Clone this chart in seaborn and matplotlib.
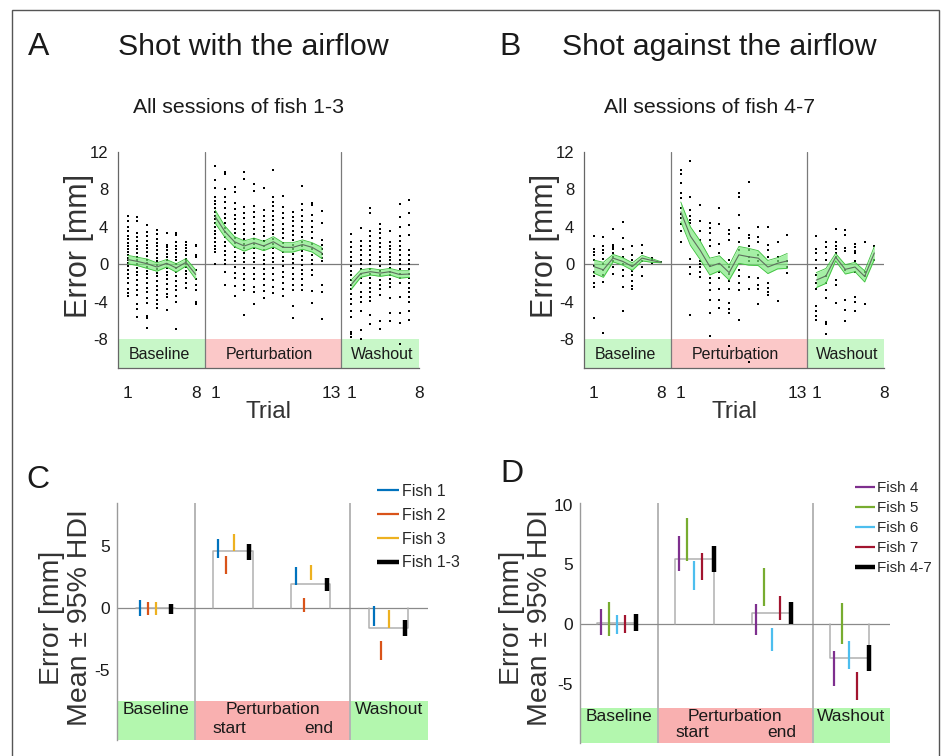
import numpy as np
import pandas as pd
import matplotlib
matplotlib.use("Agg")
import matplotlib.pyplot as plt
import seaborn as sns
from matplotlib.patches import Rectangle

# ------------------------------------------------------------------ data
phases = ["Baseline", "Perturbation", "Washout"]
n_trials = [8, 13, 8]
tick_pos_labels = ["1", "8", "1", "13", "1", "8"]

# Panel A: single-trial errors (mm) per trial
A_base_pts = [
    [5.2, 4.6, 4.0, 3.5, 3.0, 2.7, 2.3, 2.0, 1.6, 1.3, 1.0, 0.7, 0.4, 0.1, -0.2, -0.6, -1.0, -1.5, -2.0, -2.6, -3.1, -3.4],
    [5.1, 4.6, 3.3, 2.9, 2.5, 2.0, 1.6, 1.2, 0.8, 0.4, 0.0, -0.4, -0.8, -1.2, -1.7, -2.2, -2.8, -3.3, -4.3, -4.8, -5.6],
    [4.2, 3.4, 3.0, 2.5, 2.1, 1.7, 1.3, 0.9, 0.5, 0.1, -0.3, -0.7, -1.1, -1.5, -2.0, -2.5, -3.0, -3.6, -4.2, -5.5, -5.7, -6.8],
    [3.7, 3.2, 2.7, 2.3, 1.9, 1.5, 1.1, 0.7, 0.3, -0.1, -0.5, -0.9, -1.3, -1.8, -2.3, -2.8, -3.3, -3.8, -4.3, -4.7],
    [3.3, 2.1, 1.8, 1.5, 1.1, 0.8, 0.4, 0.0, -0.4, -0.8, -1.2, -1.6, -2.1, -2.6, -3.2, -3.5, -4.9],
    [3.3, 3.1, 2.4, 2.0, 1.6, 1.2, 0.8, 0.4, 0.0, -0.4, -0.8, -1.3, -1.8, -2.3, -2.8, -3.4, -4.0, -6.9],
    [2.4, 2.1, 1.7, 1.4, 1.0, 0.6, 0.3, 0.0, -0.3, -0.7, -1.1, -1.5, -2.0, -2.5],
    [2.1, 1.9, 1.0, 0.8, -0.6, -1.6, -2.2, -2.8, -4.0, -4.3],
]
A_pert_pts = [
    [10.5, 9.0, 8.2, 7.2, 6.8, 6.4, 6.0, 5.6, 5.2, 4.8, 4.4, 4.0, 3.6, 3.2, 2.8, 2.4, 2.0, 1.6, 1.3, 0.0],
    [9.9, 9.6, 8.0, 7.2, 6.6, 6.0, 5.4, 4.9, 4.4, 3.9, 3.4, 2.9, 2.4, 1.9, 1.4, 1.0, 0.5, 0.0, -0.8, -2.2],
    [8.3, 7.7, 6.5, 5.9, 5.3, 4.8, 4.3, 3.8, 3.3, 2.8, 2.3, 1.8, 1.3, 0.8, 0.3, -0.3, -0.9, -1.5, -2.3, -3.4],
    [9.9, 9.1, 6.1, 5.5, 4.9, 4.3, 3.7, 3.2, 2.7, 2.2, 1.7, 1.2, 0.7, 0.2, -0.4, -1.0, -1.6, -2.2, -2.8, -5.4],
    [8.6, 7.8, 6.2, 5.6, 5.0, 4.4, 3.8, 3.2, 2.7, 2.2, 1.7, 1.2, 0.7, 0.2, -0.4, -1.0, -1.6, -2.4, -3.0, -4.3],
    [8.1, 5.8, 5.2, 4.6, 4.0, 3.5, 3.0, 2.5, 2.0, 1.5, 1.0, 0.5, 0.0, -0.5, -1.0, -1.6, -2.2, -2.9, -3.6],
    [10.1, 7.2, 6.7, 6.2, 5.7, 5.2, 4.7, 4.2, 3.7, 3.2, 2.7, 2.2, 1.7, 1.2, 0.7, 0.2, -0.4, -1.0, -1.7, -2.4, -3.1],
    [7.3, 6.1, 5.5, 4.9, 4.3, 3.8, 3.3, 2.8, 2.3, 1.8, 1.3, 0.8, 0.3, -0.2, -0.8, -1.4, -2.0, -2.7, -3.4],
    [5.6, 5.1, 4.6, 4.1, 3.6, 3.1, 2.6, 2.1, 1.6, 1.1, 0.6, 0.1, -0.4, -1.0, -1.6, -2.2, -2.8, -4.5, -5.8],
    [8.4, 6.4, 5.8, 5.2, 4.6, 4.0, 3.4, 2.9, 2.4, 1.9, 1.4, 0.9, 0.4, -0.1, -0.6, -1.1, -1.6, -2.2, -2.8],
    [6.5, 6.3, 5.3, 4.6, 4.0, 3.4, 2.8, 2.2, 1.6, 1.0, 0.5, 0.0, -0.6, -1.2, -2.9, -4.1],
    [5.7, 4.4, 2.6, 2.1, 1.6, 1.1, 0.7, 0.3, -2.2, -3.0, -5.9],
]
A_wash_pts = [
    [3.2, 2.4, 1.8, 1.3, 0.8, 0.3, -0.2, -0.7, -1.2, -1.7, -2.2, -2.7, -3.2, -3.7, -4.3, -5.0, -5.6, -7.2, -7.5, -7.8],
    [3.9, 2.5, 2.0, 1.5, 1.0, 0.5, 0.0, -0.5, -1.0, -1.5, -2.0, -3.0, -3.5, -4.0, -5.0, -7.0, -8.0],
    [6.0, 5.5, 3.5, 3.0, 2.5, 2.0, 1.5, 1.0, 0.5, 0.0, -0.5, -1.0, -1.5, -2.0, -2.5, -3.0, -3.5, -3.9, -5.4, -6.4],
    [4.3, 3.8, 3.3, 2.8, 2.3, 1.8, 1.3, 0.8, 0.3, -0.2, -0.7, -1.2, -1.7, -2.2, -2.7, -3.3, -6.1, -6.9],
    [3.6, 2.4, 2.0, 1.6, 1.2, 0.8, 0.4, 0.0, -0.4, -0.8, -1.2, -1.6, -2.0, -2.4, -3.6, -5.2, -6.1],
    [6.4, 5.1, 4.0, 3.0, 2.5, 2.0, 1.5, 1.0, 0.5, 0.0, -0.5, -1.0, -1.5, -2.0, -3.5, -5.2, -6.3, -8.5],
    [6.9, 5.5, 4.2, 3.1, 1.5, 1.0, 0.5, 0.0, -0.5, -1.0, -1.5, -2.0, -2.5, -3.0, -3.5, -4.0, -5.0, -6.0],
]
A_base_mean = [0.5, 0.3, 0.05, -0.3, 0.1, -0.4, 0.2, -1.1]
A_base_ci = [0.45, 0.45, 0.5, 0.45, 0.4, 0.45, 0.4, 0.5]
A_pert_mean = [5.1, 3.5, 2.4, 1.95, 2.3, 1.95, 2.4, 1.8, 1.8, 2.1, 1.8, 1.2]
A_pert_ci = [0.7, 0.6, 0.55, 0.55, 0.5, 0.5, 0.55, 0.5, 0.5, 0.5, 0.5, 0.6]
A_wash_mean = [-2.2, -1.0, -0.8, -0.95, -0.8, -1.1, -1.05]
A_wash_ci = [0.5, 0.4, 0.35, 0.35, 0.35, 0.4, 0.35]

# Panel B
B_base_pts = [
    [3.0, 1.6, 1.3, 1.0, 0.5, -0.2, -0.8, -1.3, -2.0, -2.4, -5.7],
    [2.9, 1.9, 1.5, 1.2, 0.6, 0.0, -0.6, -1.2, -1.9, -7.4],
    [3.8, 2.1, 1.8, 1.6, 1.2, 0.8, 0.3, -0.3, -1.1],
    [4.5, 2.8, 1.6, 0.8, 0.0, -0.6, -1.3, -2.4, -5.0],
    [1.9, 1.0, 0.4, -0.2, -0.7, -1.2, -1.8, -2.3, -2.7],
    [2.1, 1.2, 0.3, -0.3, -1.3],
    [0.7, 0.4, 0.1],
    [0.2],
]
B_pert_pts = [
    [10.1, 9.6, 8.7, 7.6, 7.1, 6.0, 5.4, 4.9, 4.3, 3.6, 2.4],
    [11.0, 7.2, 5.8, 5.2, 4.7, 4.4, 0.6, -0.3, -1.0, -5.4],
    [6.3, 4.6, 3.5, 2.6, 0.3, 0.0, -0.3, -0.8, -1.4],
    [4.4, 3.9, 3.3, 2.6, 2.0, -0.2, -1.5, -2.0, -2.8, -3.8, -5.2, -7.7],
    [6.0, 4.3, 2.2, 1.2, 0.0, -0.8, -1.5, -2.7, -3.8, -4.7],
    [3.7, 3.2, 2.6, 0.5, -0.3, -1.0, -1.8, -2.6, -4.2, -4.8, -5.2, -8.7],
    [7.6, 7.2, 5.3, 3.9, 2.4, 1.5, -0.6, -1.3, -2.0, -2.8, -6.0],
    [8.8, 3.1, 2.8, 2.0, 1.5, 0.8, 0.3, -1.4, -2.6, -10.5],
    [4.0, 2.9, 2.4, 1.0, 0.3, -1.5, -2.2, -2.7, -4.3],
    [4.0, 2.1, 1.5, 0.8, -2.0, -2.5, -3.0, -3.3],
    [2.4, 0.8, 0.3, -3.9],
    [3.1, 0.3, -0.3, -0.9],
]
B_wash_pts = [
    [3.0, 1.6, 1.2, 0.5, -0.4, -1.2, -2.0, -2.7, -4.5, -5.0, -5.5, -6.0],
    [2.4, 1.8, 1.2, 0.5, -1.3, -2.0, -2.8, -3.6, -6.2, -6.4, -7.5],
    [3.8, 2.4, 2.0, 1.6, 1.2, 0.8, -1.7, -2.2, -4.1],
    [3.7, 3.1, 1.7, 1.4, -0.6, -3.8, -4.9, -6.1],
    [2.2, 1.8, 1.4, 1.2, 0.3, -0.8, -3.5, -4.0, -5.0],
    [2.4, -0.8, -1.3, -4.3],
    [1.9, 0.5],
]
B_base_mean = [-0.25, -0.6, 0.65, 0.3, -0.25, 0.65, 0.4, 0.2]
B_base_ci = [0.7, 0.8, 0.4, 0.4, 0.4, 0.3, 0.2, 0.05]
B_pert_mean = [5.6, 3.0, 1.5, -0.25, 0.1, -0.9, 1.0, 0.8, 0.65, -0.3, 0.1, 0.35]
B_pert_ci = [1.05, 1.0, 1.0, 0.9, 0.8, 0.8, 0.9, 0.9, 0.8, 0.7, 0.6, 0.8]
B_wash_mean = [-1.7, -1.25, 0.75, -0.55, -0.3, -1.3, 1.2]
B_wash_ci = [0.8, 0.8, 0.4, 0.5, 0.5, 0.6, 0.7]

# Panels C / D: mean +- 95% HDI per condition
conds = ["Baseline", "start", "end", "Washout"]
C_fish = ["Fish 1", "Fish 2", "Fish 3", "Fish 1-3"]
C_low = [[-0.62, 4.05, 1.85, -1.49],
         [-0.57, 2.78, -0.35, -4.2],
         [-0.54, 4.6, 2.25, -1.62],
         [-0.46, 3.9, 1.35, -2.3]]
C_high = [[0.62, 5.6, 3.3, 0.19],
          [0.46, 4.24, 0.8, -2.7],
          [0.46, 6.0, 3.5, -0.14],
          [0.35, 5.2, 2.43, -0.95]]
C_box = [0.0, 4.6, 1.9, -1.62]

D_fish = ["Fish 4", "Fish 5", "Fish 6", "Fish 7", "Fish 4-7"]
D_low = [[-0.95, 4.41, -0.9, -5.17],
         [-0.98, 5.3, 1.5, -1.65],
         [-0.84, 2.88, -2.3, -3.77],
         [-0.75, 3.72, 0.36, -6.34],
         [-0.56, 4.33, 0.0, -3.97]]
D_high = [[1.28, 7.35, 1.68, -2.23],
          [1.84, 8.9, 4.7, 1.76],
          [0.78, 5.25, -0.33, -1.4],
          [0.78, 5.95, 2.37, -4.02],
          [0.84, 6.56, 1.84, -1.79]]
D_box = [0.1, 5.45, 0.92, -2.85]

C_colors = ["#0072BD", "#D95319", "#EDB120", "#000000"]
D_colors = ["#7E2F8E", "#77AC30", "#4DBEEE", "#A2142F", "#000000"]

# ------------------------------------------------------------------ style
sns.set_style("white")
plt.rcParams['font.family'] = ['Liberation Sans', 'DejaVu Sans']
TXT = '#1a1a1a'
AXC = '#666666'
GREEN_BOX = '#C8F7C8'
PINK_BOX = '#FBC8C8'
GREEN_BOX2 = '#B3F7AE'
PINK_BOX2 = '#F9B0B0'

W, H = 941, 756
fig = plt.figure(figsize=(W / 100, H / 100), dpi=100)


def fx(px):
    return px / W


def fy(py):
    return 1 - py / H


# phase geometry on the trial axis
starts = [0]
for n in n_trials[:-1]:
    starts.append(starts[-1] + n + 1)
bounds = [starts[0], starts[1], starts[2], starts[2] + n_trials[2]]


def trial_panel(ax, pts_list, means, cis):
    ylo, yhi = -11.1, 12
    ax.set_xlim(bounds[0], bounds[-1])
    ax.set_ylim(ylo, yhi)
    cols = [GREEN_BOX, PINK_BOX, GREEN_BOX]
    txt_x = [4.3, 15.6, 27.2]
    for i in range(3):
        ax.add_patch(Rectangle((bounds[i], ylo), bounds[i + 1] - bounds[i], -8 - ylo,
                               fc=cols[i], ec='none', zorder=0))
        ax.text(txt_x[i], -9.65, phases[i], ha='center', va='center',
                fontsize=11.5, color=TXT, zorder=5)
    for b in bounds[1:3]:
        ax.axvline(b, color='#7a7a7a', lw=0.9, zorder=1)
    ax.axhline(0, color='#7a7a7a', lw=0.9, zorder=1)

    rows = []
    for st, pts in zip(starts, pts_list):
        for t, vals in enumerate(pts, start=1):
            for v in vals:
                rows.append((st + t, v))
    df = pd.DataFrame(rows, columns=['trial', 'error'])
    sns.scatterplot(data=df, x='trial', y='error', ax=ax, s=3.5, marker='s',
                    color='black', linewidth=0, zorder=2, legend=False)

    for st, m, c in zip(starts, means, cis):
        x = np.arange(1, len(m) + 1) + st
        m = np.asarray(m)
        c = np.asarray(c)
        ax.fill_between(x, m - c, m + c, color='#7FEA7F', alpha=0.7, lw=0, zorder=3)
        ax.plot(x, m - c, color='#3CC03C', lw=0.6, zorder=3)
        ax.plot(x, m + c, color='#3CC03C', lw=0.6, zorder=3)
        sns.lineplot(x=x, y=m, ax=ax, color='#5E705E', lw=0.8, zorder=4, sort=False)

    for s in ['top', 'right']:
        ax.spines[s].set_visible(False)
    for s in ['left', 'bottom']:
        ax.spines[s].set_color(AXC)
        ax.spines[s].set_linewidth(0.9)
    ax.set_yticks([12, 8, 4, 0, -4, -8])
    ax.set_yticklabels(['12', '8', '4', '0', '-4', '-8'])
    major = [starts[0] + 1, starts[0] + n_trials[0], starts[1] + 1,
             starts[1] + n_trials[1], starts[2] + 1, starts[2] + n_trials[2]]
    ax.set_xticks(major)
    ax.set_xticklabels(tick_pos_labels)
    minor = []
    for st, n in zip(starts, n_trials):
        minor += list(range(st + 1, st + n + 1))
    ax.set_xticks(minor, minor=True)
    ax.tick_params(axis='y', length=3, width=0.8, color=AXC, pad=4,
                   labelsize=12, labelcolor=TXT, direction='out')
    ax.tick_params(axis='x', which='both', length=3, width=0.8, color=AXC,
                   pad=10, labelsize=12.5, labelcolor=TXT, direction='out')
    ax.set_xlabel('')
    ax.set_ylabel('')
    ax.set_facecolor('white')


def hdi_panel(ax, low, high, box, offsets, colors, names, box_left, box_right,
              ylim, label_top, y_line1, y_line2, yticks):
    ax.set_xlim(-0.5, 3.5)
    ax.set_ylim(*ylim)
    cols = [GREEN_BOX2, PINK_BOX2, GREEN_BOX2]
    spans = [(-0.5, 0.5), (0.5, 2.5), (2.5, 3.5)]
    for (a, b), c in zip(spans, cols):
        ax.add_patch(Rectangle((a, ylim[0]), b - a, label_top - ylim[0],
                               fc=c, ec='none', zorder=0))
    ax.text(0, y_line1, 'Baseline', ha='center', va='center', fontsize=12.5, color=TXT)
    ax.text(1.5, y_line1, 'Perturbation', ha='center', va='center', fontsize=12.5, color=TXT)
    ax.text(3, y_line1, 'Washout', ha='center', va='center', fontsize=12.5, color=TXT)
    ax.text(0.95, y_line2, 'start', ha='center', va='center', fontsize=12.5, color=TXT)
    ax.text(2.1, y_line2, 'end', ha='center', va='center', fontsize=12.5, color=TXT)
    for b in [0.5, 2.5]:
        ax.axvline(b, color='#b5b5b5', lw=1.4, zorder=1)
    ax.axhline(0, color='#8a8a8a', lw=0.9, zorder=1)
    # grey outline boxes at the pooled mean
    for g, m in enumerate(box):
        xl, xr = g + box_left, g + box_right
        ax.plot([xl, xl, xr, xr], [0, m, m, 0], color='#b0b0b0', lw=1.1, zorder=2)
    handles = []
    for i, (nm, col) in enumerate(zip(names, colors)):
        lw = 3.2 if col == '#000000' else 1.6
        for g in range(4):
            x = g + offsets[i]
            h, = ax.plot([x, x], [low[i][g], high[i][g]], color=col, lw=lw,
                         solid_capstyle='butt', zorder=3)
        handles.append(h)
    for s in ['top', 'right', 'bottom']:
        ax.spines[s].set_visible(False)
    ax.spines['left'].set_color('#9a9a9a')
    ax.spines['left'].set_linewidth(1.0)
    ax.set_xticks([])
    ax.set_yticks(yticks)
    ax.set_yticklabels([str(t) for t in yticks])
    ax.tick_params(axis='y', length=0, pad=5, labelsize=12.5, labelcolor=TXT)
    ax.set_facecolor('white')
    return handles


# ------------------------------------------------------------------ axes
axA = fig.add_axes([fx(118), fy(368), fx(301), 216 / H])
axB = fig.add_axes([fx(584), fy(368), fx(300), 216 / H])
axC = fig.add_axes([fx(117), fy(740), fx(311), 237 / H])
axD = fig.add_axes([fx(580), fy(743), fx(310), 240 / H])

trial_panel(axA, [A_base_pts, A_pert_pts, A_wash_pts],
            [A_base_mean, A_pert_mean, A_wash_mean], [A_base_ci, A_pert_ci, A_wash_ci])
trial_panel(axB, [B_base_pts, B_pert_pts, B_wash_pts],
            [B_base_mean, B_pert_mean, B_wash_mean], [B_base_ci, B_pert_ci, B_wash_ci])

hC = hdi_panel(axC, C_low, C_high, C_box, [-0.2, -0.1, 0.0, 0.2], C_colors, C_fish,
               -0.26, 0.245, (-10.7, 8.5), -7.57, -8.24, -9.75, [5, 0, -5])
hD = hdi_panel(axD, D_low, D_high, D_box, [-0.225, -0.125, -0.025, 0.075, 0.225],
               D_colors, D_fish, -0.28, 0.225, (-9.97, 10.14), -7.04, -7.74, -9.13,
               [10, 5, 0, -5])

fig.legend(hC, C_fish, loc='upper left', bbox_to_anchor=(fx(377), fy(484)),
           frameon=False, fontsize=11.5, handlelength=1.4, handletextpad=0.15,
           labelspacing=0.55, borderpad=0, borderaxespad=0)
fig.legend(hD, D_fish, loc='upper left', bbox_to_anchor=(fx(855), fy(481)),
           frameon=False, fontsize=11, handlelength=1.3, handletextpad=0.15,
           labelspacing=0.4, borderpad=0, borderaxespad=0)

# ------------------------------------------------------------------ texts
fig.text(fx(39), fy(55), 'A', fontsize=23, ha='center', va='baseline', color=TXT)
fig.text(fx(253), fy(55), 'Shot with the airflow', fontsize=21.8,
         ha='center', va='baseline', color=TXT)
fig.text(fx(510), fy(55), 'B', fontsize=23, ha='center', va='baseline', color=TXT)
fig.text(fx(719), fy(55), 'Shot against the airflow', fontsize=21.8,
         ha='center', va='baseline', color=TXT)
fig.text(fx(238), fy(113), 'All sessions of fish 1-3', fontsize=15.3,
         ha='center', va='baseline', color=TXT)
fig.text(fx(710), fy(113), 'All sessions of fish 4-7', fontsize=15.3,
         ha='center', va='baseline', color=TXT)
fig.text(fx(38), fy(488), 'C', fontsize=23, ha='center', va='baseline', color=TXT)
fig.text(fx(512), fy(482), 'D', fontsize=23, ha='center', va='baseline', color=TXT)

fig.text(fx(79), fy(246), 'Error [mm]', rotation=90, fontsize=22, ha='center', va='center', color='#333333')
fig.text(fx(545), fy(246), 'Error [mm]', rotation=90, fontsize=22, ha='center', va='center', color='#333333')
fig.text(fx(268), fy(412), 'Trial', fontsize=17.5, ha='center', va='center', color='#333333')
fig.text(fx(734), fy(412), 'Trial', fontsize=17.5, ha='center', va='center', color='#333333')
fig.text(fx(66), fy(618), 'Error [mm]\nMean \u00b1 95% HDI', rotation=90, fontsize=20.5,
         ha='center', va='center', multialignment='center', linespacing=1.1, color='#333333')
fig.text(fx(526), fy(618), 'Error [mm]\nMean \u00b1 95% HDI', rotation=90, fontsize=20.5,
         ha='center', va='center', multialignment='center', linespacing=1.1, color='#333333')

# outer frame
fig.add_artist(Rectangle((fx(12), -0.02), fx(939) - fx(12), fy(10) + 0.02,
                         transform=fig.transFigure, fill=False, ec='#555555', lw=1.0))

fig.savefig('out.png', dpi=100)
